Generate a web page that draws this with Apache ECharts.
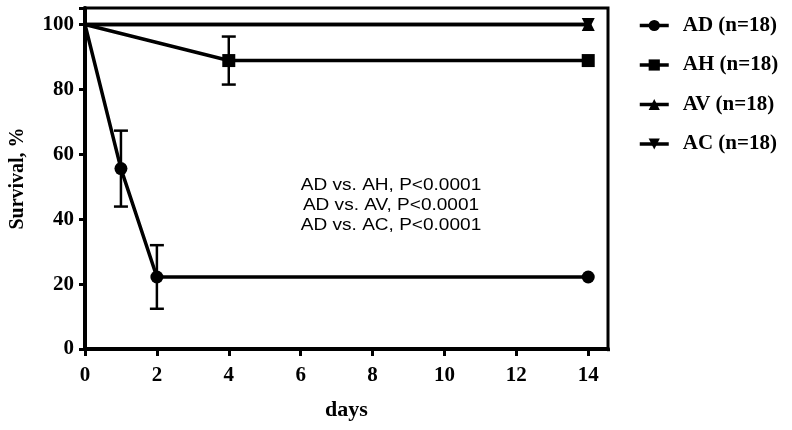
<!DOCTYPE html>
<html>
<head>
<meta charset="utf-8">
<script src="https://cdn.jsdelivr.net/npm/echarts@6/dist/echarts.min.js"></script>
<style>html,body{margin:0;padding:0;background:#fff}#chart{width:792px;height:430px}</style>
</head>
<body>
<div id="chart"></div>
<script>
// ---- data ----
const seriesNames = ['AD (n=18)', 'AH (n=18)', 'AV (n=18)', 'AC (n=18)'];
const adDays = [0, 1, 2, 14];
const adValues = [100, 55.6, 22.2, 22.2];
const ahDays = [0, 4, 14];
const ahValues = [100, 88.9, 88.9];
const avDays = [0, 14];
const avValues = [100, 100];
const acDays = [0, 14];
const acValues = [100, 100];
const errDays = [1, 2, 4];
const errLow = [43.9, 12.4, 81.5];
const errHigh = [67.3, 32.0, 96.3];
const xTicks = [0, 2, 4, 6, 8, 10, 12, 14];
const yTicks = [0, 20, 40, 60, 80, 100];
const annotation = ['AD vs. AH, P<0.0001', 'AD vs. AV, P<0.0001', 'AD vs. AC, P<0.0001'];

const serif = '"Liberation Serif", "Times New Roman", serif';
function pts(days, vals) {
  return days.map((d, i) => (d === 0 ? { value: [d, vals[i]], symbol: 'none' } : { value: [d, vals[i]] }));
}
function lineSeries(name, days, vals, symbol, rotate) {
  return {
    name: name, type: 'line', data: pts(days, vals),
    symbol: symbol, symbolSize: 13, symbolRotate: rotate || 0,
    showAllSymbol: true,
    lineStyle: { color: '#000', width: 3.5 },
    itemStyle: { color: '#000', borderWidth: 0 },
    emphasis: { disabled: true }, z: 5
  };
}

const chart = echarts.init(document.getElementById('chart'), null, { renderer: 'canvas' });
const axisFont = { color: '#000', fontFamily: serif, fontWeight: 'bold', fontSize: 21 };
chart.setOption({
  animation: false,
  backgroundColor: '#fff',
  grid: { left: 81, top: 8, right: 184, bottom: 81, show: true, borderColor: '#000', borderWidth: 3, backgroundColor: 'transparent' },
  xAxis: {
    type: 'value', min: 0, max: 14.55, interval: 2,
    axisLine: { onZero: false, lineStyle: { color: '#000', width: 4 } },
    axisTick: { show: true, length: 7, lineStyle: { color: '#000', width: 3 } },
    axisLabel: Object.assign({
      margin: 16,
      formatter: function (v) { return xTicks.indexOf(v) >= 0 ? String(v) : ''; }
    }, axisFont),
    splitLine: { show: false },
    name: 'days', nameLocation: 'middle', nameGap: 50,
    nameTextStyle: { color: '#000', fontFamily: serif, fontWeight: 'bold', fontSize: 22 }
  },
  yAxis: {
    type: 'value', min: 0, max: 105.1, interval: 20,
    axisLine: { show: true, lineStyle: { color: '#000', width: 4 } },
    axisTick: { show: true, length: 6, lineStyle: { color: '#000', width: 3 } },
    axisLabel: Object.assign({
      margin: 11,
      formatter: function (v) { return yTicks.indexOf(v) >= 0 ? String(v) : ''; }
    }, axisFont),
    splitLine: { show: false },
    name: 'Survival, %', nameLocation: 'middle', nameGap: 57,
    nameTextStyle: { color: '#000', fontFamily: serif, fontWeight: 'bold', fontSize: 20 }
  },
  legend: {
    orient: 'vertical', left: 633, top: 10,
    itemWidth: 29, itemHeight: 14, itemGap: 18.5,
    data: seriesNames,
    lineStyle: { width: 3.5 },
    textStyle: { color: '#000', fontFamily: serif, fontWeight: 'bold', fontSize: 21, lineHeight: 20, padding: [0, 0, 0, 9] }
  },
  graphic: [
    {
      type: 'text', x: 391, y: 175, scaleX: 1.12,
      style: { text: annotation.join('\n'), font: '17px "Liberation Sans", Arial, sans-serif', fill: '#000', textAlign: 'center', textVerticalAlign: 'top', lineHeight: 20 }
    },
    // hide the ticks that ECharts adds at the axis extent ends (not in the reference)
    { type: 'rect', z: 100, silent: true, shape: { x: 603, y: 351.2, width: 10, height: 9 }, style: { fill: '#fff' } },
    { type: 'rect', z: 100, silent: true, shape: { x: 68, y: 3, width: 10.8, height: 10 }, style: { fill: '#fff' } }
  ],
  series: [
    {
      type: 'custom', name: 'err', silent: true, z: 3,
      data: errDays.map((d, i) => [d, errLow[i], errHigh[i]]),
      encode: { x: 0, y: [1, 2] },
      renderItem: function (params, api) {
        const x = api.value(0);
        const lo = api.coord([x, api.value(1)]);
        const hi = api.coord([x, api.value(2)]);
        const w = 7;
        const st = { stroke: '#000', lineWidth: 2.5 };
        return {
          type: 'group', children: [
            { type: 'line', shape: { x1: lo[0], y1: lo[1], x2: hi[0], y2: hi[1] }, style: st },
            { type: 'line', shape: { x1: lo[0] - w, y1: lo[1], x2: lo[0] + w, y2: lo[1] }, style: st },
            { type: 'line', shape: { x1: hi[0] - w, y1: hi[1], x2: hi[0] + w, y2: hi[1] }, style: st }
          ]
        };
      }
    },
    lineSeries(seriesNames[0], adDays, adValues, 'circle'),
    lineSeries(seriesNames[1], ahDays, ahValues, 'rect'),
    lineSeries(seriesNames[2], avDays, avValues, 'triangle'),
    lineSeries(seriesNames[3], acDays, acValues, 'triangle', 180)
  ]
});
</script>
</body>
</html>
